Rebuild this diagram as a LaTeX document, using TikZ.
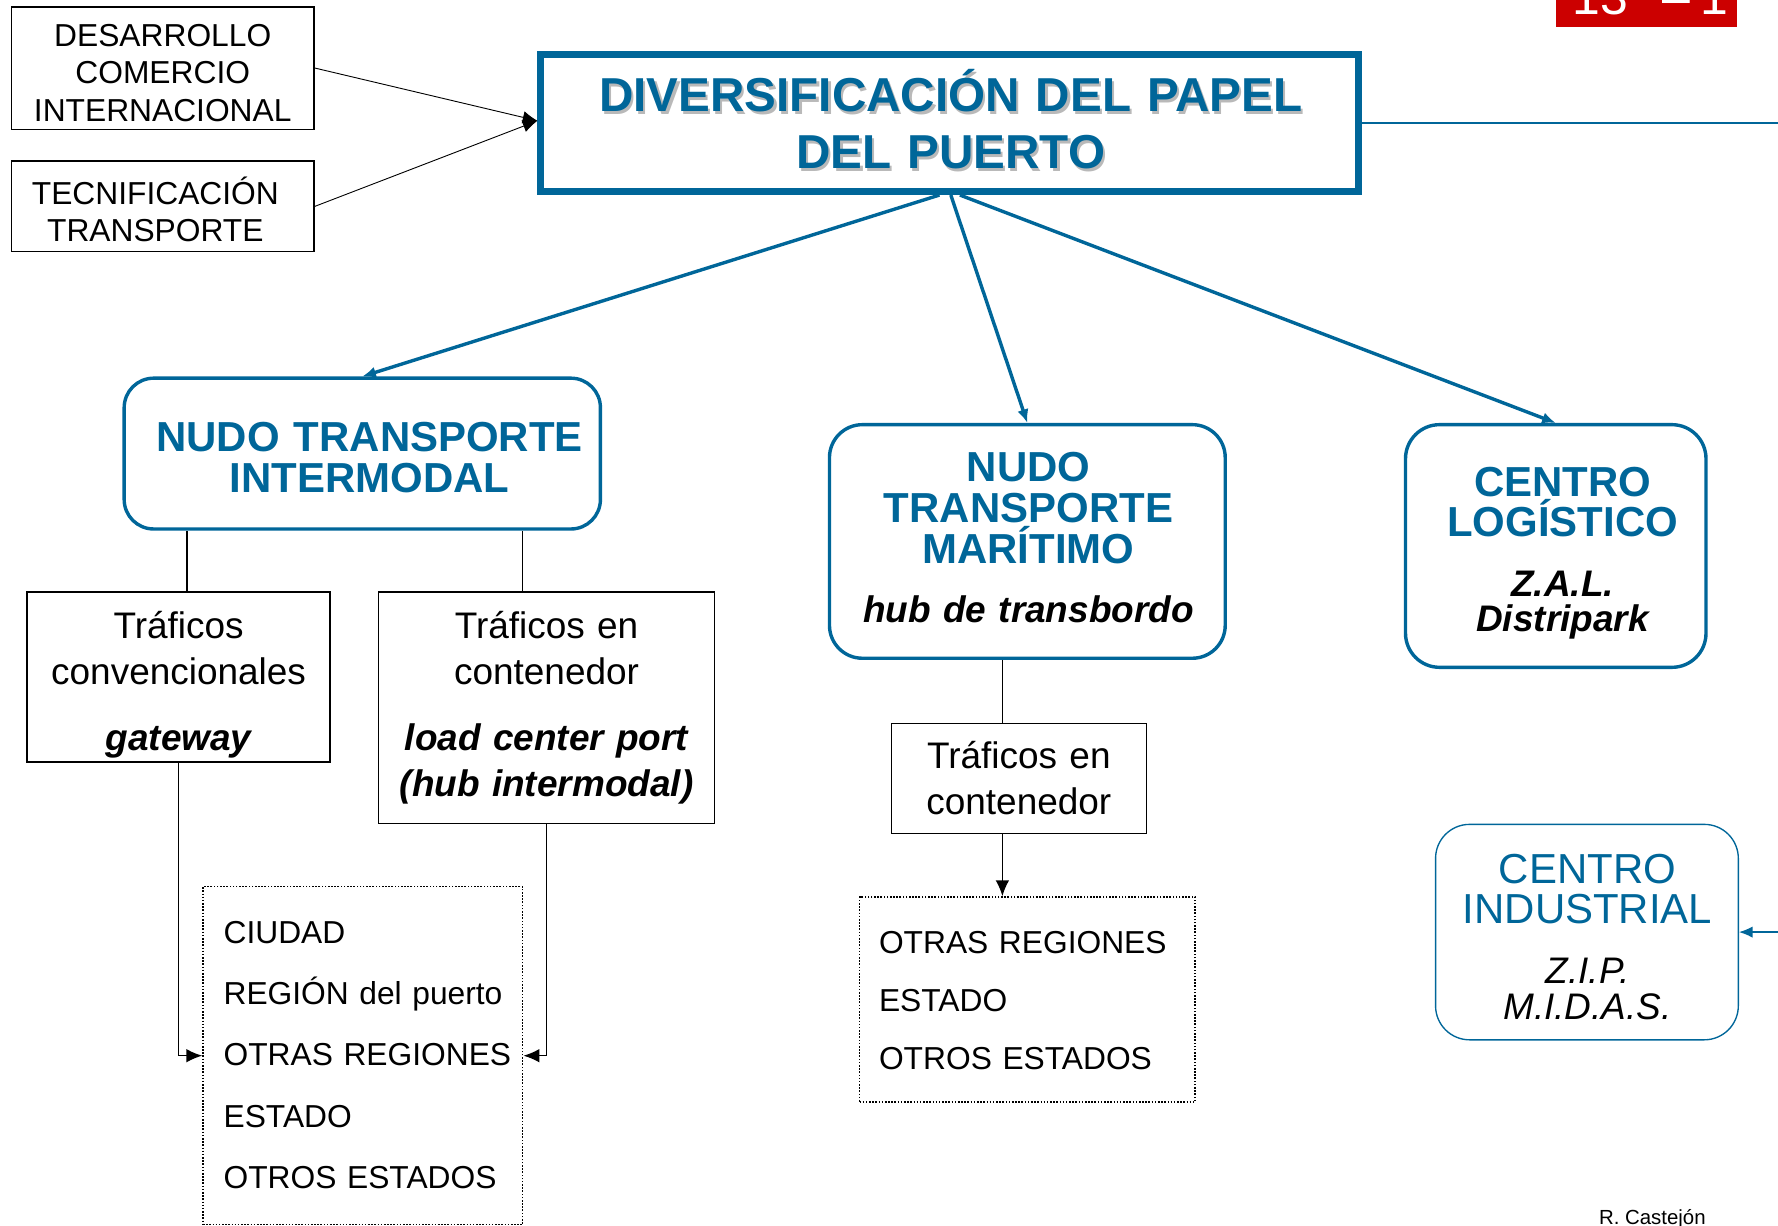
\documentclass[tikz,border=0pt]{standalone}
\usepackage{fontspec}
\setmainfont{Liberation Sans}
\usetikzlibrary{arrows.meta,positioning}
\usepackage{xcolor}
\definecolor{puerto}{RGB}{0,102,153}
\definecolor{sombra}{RGB}{185,185,185}
\definecolor{rojo}{RGB}{204,0,0}

\begin{document}
\begin{tikzpicture}[x=1pt,y=-1pt,>={Latex[length=12pt,width=10pt]},
		box node/.style={draw,line width=1.3pt,inner sep=0pt},
		hub node/.style={draw=puerto,line width=3pt,rounded corners=26pt,inner sep=0pt},
		list node/.style={draw,line width=1.3pt,dash pattern=on 1.4pt off 1.4pt,inner sep=0pt},
		txt/.style={inner sep=0pt,text width=#1,align=center,anchor=base},
		label text/.style={font=\fontsize{28}{33}\selectfont},
		body text/.style={font=\fontsize{32.6}{#1}\selectfont},
		title text/.style={font=\fontsize{42}{50}\selectfont\bfseries,text=puerto},
		head text/.style={font=\fontsize{37}{#1}\selectfont\bfseries,text=puerto},
		sub text/.style={font=\fontsize{32.6}{#1}\selectfont\bfseries\itshape},
		list text/.style={inner sep=0pt,text width=290pt,align=left,anchor=base west,font=\fontsize{28}{#1}\selectfont},
		input/.style={line width=0.8pt,-{Latex[length=13pt,width=11pt]}},
		branch/.style={->,draw=puerto,line width=3pt,color=puerto},
		link/.style={line width=1.3pt},
		feed/.style={line width=1.3pt,-{Latex[length=14pt,width=12pt]}},
		rim/.style={draw=puerto,color=puerto,line width=1.2pt}]
	\useasboundingbox (0,0) rectangle (1568,1081);

	% Tab
	\fill[rojo] (1372,-5) rectangle (1532,24);
	\node[anchor=base west,inner sep=0pt,text=white,font=\fontsize{44}{50}\selectfont] (tab) at (1386.7,12.5) {13\hspace{30.5pt}–\hspace{9pt}1};

	% Nodes
	\node[box node,minimum width=267pt,minimum height=108pt] (desa) at (143.5,60) {};
	\node[txt=267pt,label text] (desa-t) at (143.5,41) {DESARROLLO\\COMERCIO\\INTERNACIONAL};
	\node[box node,minimum width=267pt,minimum height=80pt] (tecn) at (143.5,182) {};
	\node[txt=267pt,label text] (tecn-t) at (137,180) {TECNIFICACIÓN\\TRANSPORTE};

	\node[draw=puerto,line width=6pt,minimum width=721pt,minimum height=121pt,inner sep=0pt] (main) at (837.5,108.5) {};
	\node[txt=720pt,title text,text=sombra] (main-s) at (840.5,101) {DIVERSIFICACIÓN DEL PAPEL\\DEL PUERTO};
	\node[txt=720pt,title text] (main-t) at (838.5,98.5) {DIVERSIFICACIÓN DEL PAPEL\\DEL PUERTO};

	\node[hub node,minimum width=420pt,minimum height=133pt] (inter) at (319.5,400) {};
	\node[txt=420pt,head text=36] (inter-t) at (326,398) {NUDO TRANSPORTE\\INTERMODAL};

	\node[box node,minimum width=267pt,minimum height=150pt] (conv) at (157.5,597) {};
	\node[txt=267pt,body text=41] (conv-t) at (157.5,563) {Tráficos\\convencionales};
	\node[txt=267pt,sub text=40] (conv-s) at (157.5,662) {gateway};

	\node[box node,minimum width=296pt,minimum height=204pt] (cont) at (482,624) {};
	\node[txt=296pt,body text=41] (cont-t) at (482,563) {Tráficos en\\contenedor};
	\node[txt=296pt,sub text=40] (cont-s) at (482,662) {load center port\\(hub intermodal)};

	\node[list node,minimum width=282pt,minimum height=298pt] (dot1) at (320,931) {};
	\node[list text=54] (dot1-t) at (197,832) {CIUDAD\\REGIÓN del puerto\\OTRAS REGIONES\\ESTADO\\OTROS ESTADOS};

	\node[hub node,rounded corners=29pt,minimum width=349pt,minimum height=206pt] (mar) at (906,477.5) {};
	\node[txt=349pt,head text=36] (mar-t) at (907,425) {NUDO\\TRANSPORTE\\MARÍTIMO};
	\node[txt=349pt,sub text=31] (mar-s) at (907,549) {hub de transbordo};

	\node[box node,minimum width=225pt,minimum height=97pt] (cont2) at (898.5,686.5) {};
	\node[txt=225pt,body text=40] (cont2-t) at (898.5,678) {Tráficos en\\contenedor};

	\node[list node,minimum width=296pt,minimum height=181pt] (dot2) at (906,881.5) {};
	\node[list text=51] (dot2-t) at (775,841) {OTRAS REGIONES\\ESTADO\\OTROS ESTADOS};

	\node[hub node,rounded corners=30pt,minimum width=265pt,minimum height=214pt] (log) at (1372,481.5) {};
	\node[txt=265pt,head text=35.5] (log-t) at (1378,438) {CENTRO\\LOGÍSTICO};
	\node[txt=265pt,sub text=31] (log-s) at (1378,526) {Z.A.L.\\Distripark};

	\node[draw=puerto,line width=1.2pt,rounded corners=30pt,minimum width=267pt,minimum height=190pt,inner sep=0pt] (ind) at (1399.5,822) {};
	\node[txt=267pt,font=\fontsize{37}{35}\selectfont,text=puerto] (ind-t) at (1400,779) {CENTRO\\INDUSTRIAL};
	\node[txt=267pt,font=\fontsize{32.6}{32}\selectfont\itshape] (ind-s) at (1400,867) {Z.I.P.\\M.I.D.A.S.};

	\node[anchor=base west,inner sep=0pt,font=\fontsize{18}{20}\selectfont] (firma) at (1410,1080) {R. Castejón};

	\coordinate (rim-a) at (1568,108.5);
	\coordinate (rim-b) at (1568,822);

	% Edges
	\draw[input] (desa.east) -- ([yshift=2pt]main.west);
	\draw[input] (tecn.east) -- ([yshift=2pt]main.west);

	\draw[branch] ([xshift=-9pt]main.south) -- (inter.north);
	\draw[branch] ([xshift=1pt]main.south) -- (mar.north);
	\draw[branch] ([xshift=9pt]main.south) -- (log.north);

	\draw[link] ([xshift=7.5pt]conv.north) -- ([xshift=7.5pt]conv.north |- inter.south);
	\draw[link] ([xshift=-21pt]cont.north) -- ([xshift=-21pt]cont.north |- inter.south);
	\draw[feed] (conv.south) |- (dot1.west);
	\draw[feed] (cont.south) |- (dot1.east);

	\draw[link] ([xshift=-22pt]mar.south) -- ([xshift=-22pt]mar.south |- cont2.north);
	\draw[feed] ([xshift=-14.5pt]cont2.south) -- ([xshift=-14.5pt]cont2.south |- dot2.north);

	\draw[rim] (main.east) -- (rim-a);
	\draw[rim,->] (rim-b) -- (ind.east);
\end{tikzpicture}
\end{document}
